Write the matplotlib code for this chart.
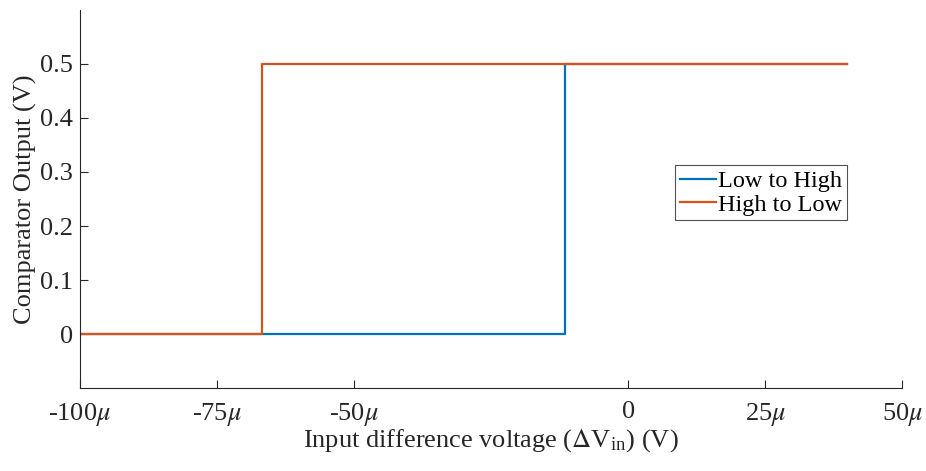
import matplotlib.pyplot as plt

plt.rcParams['font.family'] = ['Liberation Serif', 'DejaVu Serif']
plt.rcParams['mathtext.fontset'] = 'stix'

# sweep data (volts)
x_low_high = [-100e-6, -11.5e-6, -11.5e-6, 40e-6]
y_low_high = [0, 0, 0.5, 0.5]
x_high_low = [-100e-6, -66.8e-6, -66.8e-6, 40e-6]
y_high_low = [0, 0, 0.5, 0.5]

xticks = [-100e-6, -75e-6, -50e-6, 0, 25e-6, 50e-6]
xticklabels = [r'-100$\mu$', r'-75$\mu$', r'-50$\mu$', '0', r'25$\mu$', r'50$\mu$']
yticks = [0, 0.1, 0.2, 0.3, 0.4, 0.5]

fig = plt.figure(figsize=(9.26, 4.71), dpi=100)
ax = fig.add_axes([0.0864, 0.176, 0.888, 0.803])

ax.plot(x_low_high, y_low_high, color='#0072BD', lw=1.6, label='Low to High')
ax.plot(x_high_low, y_high_low, color='#D95319', lw=1.6, label='High to Low')

ax.set_xlim(-100e-6, 50e-6)
ax.set_ylim(-0.1, 0.6)
ax.set_xticks(xticks)
ax.set_xticklabels(xticklabels)
ax.set_yticks(yticks)
ax.set_yticklabels(['0', '0.1', '0.2', '0.3', '0.4', '0.5'])

for s in ['top', 'right']:
    ax.spines[s].set_visible(False)
for s in ['left', 'bottom']:
    ax.spines[s].set_color('#262626')
    ax.spines[s].set_linewidth(0.8)
ax.tick_params(direction='in', length=6, width=0.8, colors='#262626', labelsize=19, labelcolor='#262626')
ax.tick_params(axis='x', pad=9)
ax.tick_params(axis='y', pad=5)

ax.set_xlabel(r'Input difference voltage ($\Delta$V$_{\mathregular{in}}$) (V)', fontsize=19,
              color='#262626', labelpad=0)
ax.set_ylabel('Comparator Output (V)', fontsize=19, color='#262626', labelpad=2)

leg = ax.legend(loc='center', bbox_to_anchor=(0.828, 0.516), fontsize=17.5, frameon=True,
                fancybox=False, edgecolor='#262626', handlelength=1.5, handletextpad=0.05,
                borderpad=0.2, labelspacing=0.05, borderaxespad=0)
leg.get_frame().set_linewidth(0.8)

fig.savefig('out.png', dpi=100)
